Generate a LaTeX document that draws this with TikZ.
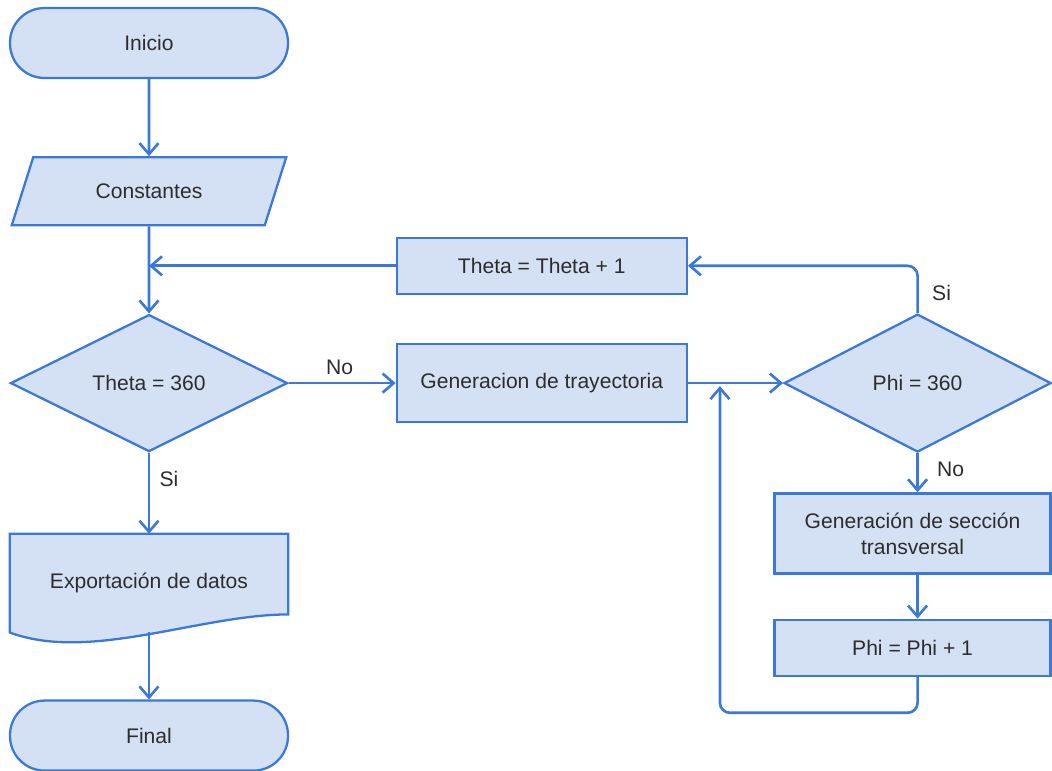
\documentclass[tikz,border=0pt]{standalone}
\usepackage{fontspec}
\setmainfont{Liberation Sans}
\usepackage{xcolor}
\usetikzlibrary{positioning,arrows.meta,calc,shapes.geometric,backgrounds}

\definecolor{boxfill}{RGB}{212,225,245}
\definecolor{boxline}{RGB}{60,120,216}
\definecolor{txtgray}{RGB}{45,45,45}

\begin{document}
\begin{tikzpicture}[
  font=\fontsize{12}{14.8}\selectfont,
  text=txtgray,
  >={Straight Barb[length=0.22cm,width=0.38cm]},
  node distance=1.5cm and 2cm,
  term/.style={draw=boxline, fill=boxfill, line width=1.3pt, rounded corners=0.69cm, minimum width=5.56cm, minimum height=1.4cm},
  iobox/.style={draw=boxline, fill=boxfill, line width=1.3pt, trapezium, trapezium left angle=67.6, trapezium right angle=112.4, trapezium stretches=true, minimum width=5.5cm, minimum height=1.36cm},
  decision/.style={draw=boxline, fill=boxfill, line width=1.3pt, diamond, aspect=2, inner sep=0pt},
  proc/.style={draw=boxline, fill=boxfill, line width=1.3pt, align=center},
  link/.style={->, line width=1.5pt, boxline},
  lbl/.style={inner sep=1pt},
]
\useasboundingbox (0,0) rectangle (21.04,-15.4);

% Left column
\node[term] (inicio) at (2.98,-0.86) {Inicio};
\node[iobox, below=1.54cm of inicio] (const) {Constantes};
\node[decision, minimum width=5.54cm, minimum height=2.74cm, below=1.74cm of const] (theta) {Theta = 360};
\node[minimum width=5.56cm, minimum height=1.96cm, below=1.62cm of theta] (export) {Exportaci\'on de datos};
\node[term, below=1.34cm of export] (final) {Final};

% Document shape behind its text
\begin{scope}[on background layer]
  \draw[draw=boxline, fill=boxfill, line width=1.3pt]
    (export.north west) -- (export.north east) -- ([yshift=0.36cm]export.south east)
    .. controls ($(export.south east)+(-1.76,0.36)$) and ($(export.south west)+(1.6,-0.6)$) .. (export.south west) -- cycle;
\end{scope}

% Theta loop
\node[proc, minimum width=5.8cm, minimum height=1.56cm, right=2.14cm of theta] (trayect) {Generacion de trayectoria};
\node[proc, minimum width=5.8cm, minimum height=1.12cm, above=0.96cm of trayect] (thetainc) {Theta = Theta + 1};

% Phi loop
\node[decision, minimum width=5.34cm, minimum height=2.76cm, right=1.9cm of trayect] (phi) {Phi = 360};
\node[proc, minimum width=5.52cm, minimum height=1.6cm, below=0.78cm of phi, xshift=-0.1cm] (seccion) {Generaci\'on de secci\'on\\transversal};
\node[proc, minimum width=5.52cm, minimum height=1.12cm, below=0.88cm of seccion] (phiinc) {Phi = Phi + 1};

% Connectors
\draw[link] (inicio) -- (const);
\draw[link] (const) -- (theta);
\draw[link] (theta) -- (export);
\draw[link] (export.south) -- (final);
\draw[link] (theta.east) -- (trayect.west);
\draw[link] (trayect.east) -- (phi.west);
\draw[link, rounded corners=0.2cm] (phi.north) -- (phi.north |- thetainc.east) -- (thetainc.east);
\draw[link] (thetainc.west) -- (thetainc.west -| theta.north);
\draw[link] (phi.south) -- (phi.south |- seccion.north);
\draw[link] (phi.south |- seccion.south) -- (phi.south |- phiinc.north);
\draw[link, rounded corners=0.2cm] (phi.south |- phiinc.south) -- ++(0,-0.72)
  -| ($(trayect.east)+(0.64,-0.06)$);

% Branch labels
\node[lbl] (no1) at ($(theta.east)+(1.02,0.32)$) {No};
\node[lbl] (si1) at ($(theta.south)+(0.4,-0.52)$) {Si};
\node[lbl] (si2) at ($(phi.north)+(0.48,0.4)$) {Si};
\node[lbl] (no2) at ($(phi.south)+(0.66,-0.32)$) {No};

\end{tikzpicture}
\end{document}
